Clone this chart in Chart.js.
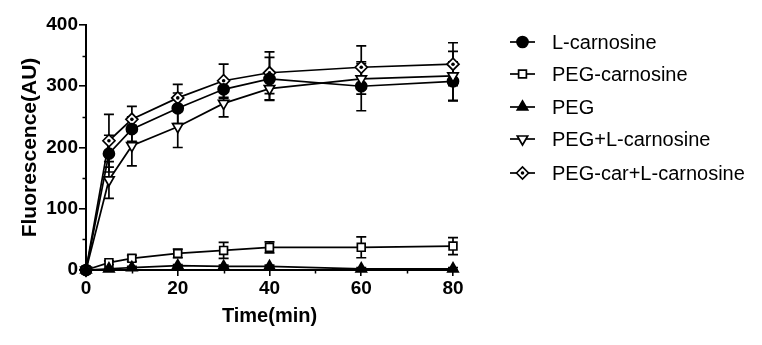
<!DOCTYPE html>
<html><head><meta charset="utf-8">
<script src="https://cdn.jsdelivr.net/npm/chart.js@4"></script>
<style>html,body{margin:0;padding:0;background:#fff}#wrap{width:762px;height:345px}</style>
</head><body><div id="wrap"><canvas id="c" width="762" height="345"></canvas></div>
<script>
const times = [0, 5, 10, 20, 30, 40, 60, 80];
const seriesNames = ['L-carnosine', 'PEG-carnosine', 'PEG', 'PEG+L-carnosine', 'PEG-car+L-carnosine'];
const lCarnosine = [0, 190, 230, 264, 295, 312, 300, 308];
const lCarnosineErr = [0, 30, 20, 25, 15, 35, 40, 32];
const pegCarnosine = [0, 12, 19, 27, 32, 37, 37, 39];
const pegCarnosineErr = [0, 3, 5, 7, 13, 9, 17, 14];
const peg = [0, 2, 4, 7, 6, 6, 2, 2];
const pegErr = [0, 1, 2, 2, 2, 2, 2, 2];
const pegLCarnosine = [0, 147, 203, 234, 272, 296, 312, 317];
const pegLCarnosineErr = [0, 30, 33, 34, 22, 18, 25, 40];
const pegCarLCarnosine = [0, 211, 246, 281, 309, 322, 331, 336];
const pegCarLCarnosineErr = [0, 43, 21, 22, 27, 34, 35, 35];
const xTicks = [0, 20, 40, 60, 80];
const yTicks = [0, 100, 200, 300, 400];

const FONT = "'Liberation Sans', Arial, sans-serif";
const LW = 1.7;
const styles = [
  {pointStyle: 'circle', fill: '#000', rot: 0, r: 5.5},
  {pointStyle: 'rect', fill: '#fff', rot: 0, r: 5.5},
  {pointStyle: 'triangle', fill: '#000', rot: 0, r: 6},
  {pointStyle: 'triangle', fill: '#fff', rot: 180, r: 6},
  {pointStyle: 'rectRot', fill: '#fff', rot: 0, r: 6}
];
const values = [lCarnosine, pegCarnosine, peg, pegLCarnosine, pegCarLCarnosine];
const errors = [lCarnosineErr, pegCarnosineErr, pegErr, pegLCarnosineErr, pegCarLCarnosineErr];
const drawOrder = [2, 1, 3, 0, 4];

const datasets = drawOrder.map(i => ({
  label: seriesNames[i],
  data: times.map((t, k) => ({x: t, y: values[i][k]})),
  errs: errors[i],
  diamondDot: i === 4,
  clip: false,
  borderColor: '#000',
  borderWidth: LW,
  pointStyle: styles[i].pointStyle,
  pointRotation: styles[i].rot,
  pointRadius: styles[i].r,
  pointBackgroundColor: styles[i].fill,
  pointBorderColor: '#000',
  pointBorderWidth: LW,
  tension: 0,
  fill: false
}));

const errorBars = {
  id: 'errorBars',
  beforeDatasetsDraw(chart) {
    const ctx = chart.ctx, ys = chart.scales.y;
    ctx.save();
    ctx.strokeStyle = '#000';
    ctx.lineWidth = LW;
    chart.data.datasets.forEach((ds, di) => {
      const meta = chart.getDatasetMeta(di);
      meta.data.forEach((pt, k) => {
        const e = ds.errs[k];
        if (!e) return;
        const v = ds.data[k].y;
        const yTop = ys.getPixelForValue(v + e);
        const yBot = ys.getPixelForValue(v - e);
        ctx.beginPath();
        ctx.moveTo(pt.x, yTop); ctx.lineTo(pt.x, yBot);
        ctx.moveTo(pt.x - 5, yTop); ctx.lineTo(pt.x + 5, yTop);
        ctx.moveTo(pt.x - 5, yBot); ctx.lineTo(pt.x + 5, yBot);
        ctx.stroke();
      });
    });
    ctx.restore();
  },
  afterDatasetsDraw(chart) {
    const ctx = chart.ctx;
    ctx.save();
    ctx.fillStyle = '#000';
    chart.data.datasets.forEach((ds, di) => {
      if (!ds.diamondDot) return;
      chart.getDatasetMeta(di).data.forEach(pt => {
        ctx.beginPath(); ctx.arc(pt.x, pt.y, 1.8, 0, Math.PI * 2); ctx.fill();
      });
    });
    ctx.restore();
  }
};

const minorTicks = {
  id: 'minorTicks',
  afterDraw(chart) {
    const ctx = chart.ctx, xs = chart.scales.x, ys = chart.scales.y;
    const a = chart.chartArea;
    ctx.save();
    ctx.strokeStyle = '#000';
    ctx.lineWidth = 1.5;
    ctx.beginPath();
    for (let v = 50; v < 400; v += 100) {
      const y = Math.round(ys.getPixelForValue(v)) + 0.5;
      ctx.moveTo(a.left, y); ctx.lineTo(a.left - 3.5, y);
    }
    for (let v = 10; v < 80; v += 20) {
      const x = Math.round(xs.getPixelForValue(v)) + 0.5;
      ctx.moveTo(x, a.bottom); ctx.lineTo(x, a.bottom + 3.5);
    }
    ctx.stroke();
    ctx.restore();
  }
};

const legendPlugin = {
  id: 'customLegend',
  afterDraw(chart) {
    const ctx = chart.ctx;
    const rowsY = [42, 74, 107, 139, 173];
    ctx.save();
    seriesNames.forEach((name, i) => {
      const y = rowsY[i];
      ctx.strokeStyle = '#000';
      ctx.lineWidth = LW;
      ctx.beginPath(); ctx.moveTo(510, y); ctx.lineTo(535, y); ctx.stroke();
      const st = styles[i];
      ctx.fillStyle = st.fill;
      Chart.helpers.drawPoint(ctx, {pointStyle: st.pointStyle, rotation: st.rot, radius: st.r, borderWidth: LW}, 522.5, y);
      if (i === 4) { ctx.fillStyle = '#000'; ctx.beginPath(); ctx.arc(522.5, y, 1.8, 0, Math.PI * 2); ctx.fill(); }
      ctx.fillStyle = '#000';
      ctx.font = '20px ' + FONT;
      ctx.textBaseline = 'middle';
      ctx.textAlign = 'left';
      ctx.fillText(name, 552, y + 1);
    });
    ctx.restore();
  }
};

new Chart(document.getElementById('c'), {
  type: 'line',
  data: {datasets},
  plugins: [errorBars, minorTicks, legendPlugin],
  options: {
    responsive: false,
    animation: false,
    events: [],
    layout: {padding: {top: 25, right: 309, left: 18, bottom: 17}},
    plugins: {legend: {display: false}, tooltip: {enabled: false}},
    scales: {
      x: {
        type: 'linear', min: 0, max: 80,
        afterBuildTicks(s) { s.ticks = xTicks.map(v => ({value: v})); },
        afterFit(s) { s.height = 58; },
        border: {display: true, color: '#000', width: 2},
        grid: {display: true, drawOnChartArea: false, drawTicks: true, tickLength: 6, color: '#000', lineWidth: 1.6},
        ticks: {color: '#000', font: {family: FONT, size: 19, weight: 'bold'}, padding: 1, maxRotation: 0},
        title: {display: true, text: 'Time(min)', color: '#000', font: {family: FONT, size: 20, weight: 'bold'}, padding: {top: 0, bottom: 0}}
      },
      y: {
        type: 'linear', min: 0, max: 400,
        afterBuildTicks(s) { s.ticks = yTicks.map(v => ({value: v})); },
        afterFit(s) { s.width = 68; },
        border: {display: true, color: '#000', width: 2},
        grid: {display: true, drawOnChartArea: false, drawTicks: true, tickLength: 7, color: '#000', lineWidth: 1.6},
        ticks: {color: '#000', font: {family: FONT, size: 19, weight: 'bold'}, padding: 1},
        title: {display: true, text: 'Fluorescence(AU)', color: '#000', font: {family: FONT, size: 21, weight: 'bold'}, padding: {top: 0, bottom: 0}}
      }
    }
  }
});
</script>
</body></html>
